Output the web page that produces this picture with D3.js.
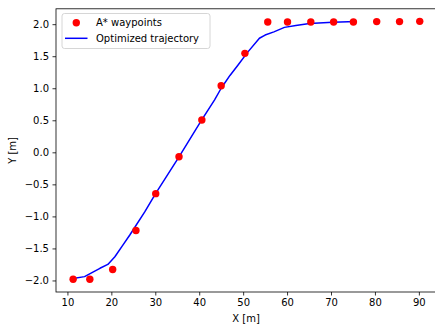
<!DOCTYPE html>
<html>
<head>
<meta charset="utf-8">
<script src="https://cdn.jsdelivr.net/npm/d3@7"></script>
<style>
  body { margin: 0; background: #fff; }
  svg text { font-family: "DejaVu Sans", sans-serif; font-size: 10px; fill: #000; }
</style>
</head>
<body>
<div id="chart"></div>
<script>
// A* waypoints
const waypointX = [11.3, 15.1, 20.3, 25.6, 30.1, 35.4, 40.6, 45.0, 50.4, 55.6, 60.1, 65.4, 70.6, 75.1, 80.4, 85.6, 90.2];
const waypointY = [-1.98, -1.98, -1.83, -1.22, -0.645, -0.07, 0.504, 1.04, 1.545, 2.033, 2.033, 2.033, 2.033, 2.035, 2.04, 2.04, 2.044];

// Optimized trajectory
const trajX = [11.3, 13.9, 15.8, 17.4, 19.2, 20.8, 22.5, 24.2, 27.6, 30.1, 35.4, 40.5, 43.5, 45.0, 47.0, 48.8, 51.0, 53.7, 55.0, 57.0, 59.4, 62.0, 65.1, 70.4, 75.7];
const trajY = [-1.97, -1.94, -1.87, -1.81, -1.75, -1.63, -1.46, -1.29, -0.93, -0.64, -0.07, 0.5, 0.82, 1.0, 1.2, 1.36, 1.56, 1.78, 1.83, 1.88, 1.95, 1.98, 2.01, 2.03, 2.04];

const xTicks = [10, 20, 30, 40, 50, 60, 70, 80, 90];
const yTicks = [-2.0, -1.5, -1.0, -0.5, 0.0, 0.5, 1.0, 1.5, 2.0];

const W = 435, H = 326;
const margin = { left: 56, top: 8.8, right: 436, bottom: 292 };

const svg = d3.select('#chart').append('svg')
  .attr('width', W)
  .attr('height', H);

const x = d3.scaleLinear().domain([7.4, 93.9]).range([margin.left, margin.right]);
const y = d3.scaleLinear().domain([-2.18, 2.24]).range([margin.bottom, margin.top]);

const minus = v => v.toFixed(1).replace('-', '\u2212');

// Axes
const xAxis = d3.axisBottom(x).tickValues(xTicks).tickSize(3.5).tickPadding(3.5).tickFormat(d3.format('d'));
const yAxis = d3.axisLeft(y).tickValues(yTicks).tickSize(3.5).tickPadding(3.5).tickFormat(minus);

const gx = svg.append('g')
  .attr('transform', `translate(0,${margin.bottom})`)
  .call(xAxis);
const gy = svg.append('g')
  .attr('transform', `translate(${margin.left},0)`)
  .call(yAxis);

[gx, gy].forEach(g => {
  g.select('.domain').remove();
  g.selectAll('line').attr('stroke', '#000').attr('stroke-width', 0.8);
  g.selectAll('text').attr('font-family', '"DejaVu Sans", sans-serif').attr('font-size', 10).attr('fill', '#000');
});

// Frame (spines)
svg.append('rect')
  .attr('x', margin.left)
  .attr('y', margin.top)
  .attr('width', margin.right - margin.left)
  .attr('height', margin.bottom - margin.top)
  .attr('fill', 'none')
  .attr('stroke', '#000')
  .attr('stroke-width', 0.8);

// Axis labels
svg.append('text')
  .attr('x', (margin.left + margin.right) / 2)
  .attr('y', 322)
  .attr('text-anchor', 'middle')
  .text('X [m]');

svg.append('text')
  .attr('transform', `translate(16,${(margin.top + margin.bottom) / 2}) rotate(-90)`)
  .attr('text-anchor', 'middle')
  .text('Y [m]');

// Trajectory line
const line = d3.line()
  .x(d => x(d[0]))
  .y(d => y(d[1]));

svg.append('path')
  .datum(d3.zip(trajX, trajY))
  .attr('d', line)
  .attr('fill', 'none')
  .attr('stroke', '#0000ff')
  .attr('stroke-width', 1.5)
  .attr('stroke-linejoin', 'round');

// Waypoints
svg.append('g').selectAll('circle')
  .data(d3.zip(waypointX, waypointY))
  .join('circle')
  .attr('cx', d => x(d[0]))
  .attr('cy', d => y(d[1]))
  .attr('r', 3.7)
  .attr('fill', '#ff0000');

// Legend
const legend = svg.append('g');
legend.append('rect')
  .attr('x', 62)
  .attr('y', 13.5)
  .attr('width', 148)
  .attr('height', 35)
  .attr('rx', 2.5)
  .attr('fill', '#fff')
  .attr('fill-opacity', 0.8)
  .attr('stroke', '#ccc')
  .attr('stroke-width', 0.8);

legend.append('circle')
  .attr('cx', 76.3)
  .attr('cy', 22.7)
  .attr('r', 3.7)
  .attr('fill', '#ff0000');
legend.append('text')
  .attr('x', 96)
  .attr('y', 26.3)
  .text('A* waypoints');

legend.append('line')
  .attr('x1', 65).attr('x2', 87.5)
  .attr('y1', 38.3).attr('y2', 38.3)
  .attr('stroke', '#0000ff')
  .attr('stroke-width', 1.5);
legend.append('text')
  .attr('x', 96)
  .attr('y', 41.9)
  .text('Optimized trajectory');
</script>
</body>
</html>
